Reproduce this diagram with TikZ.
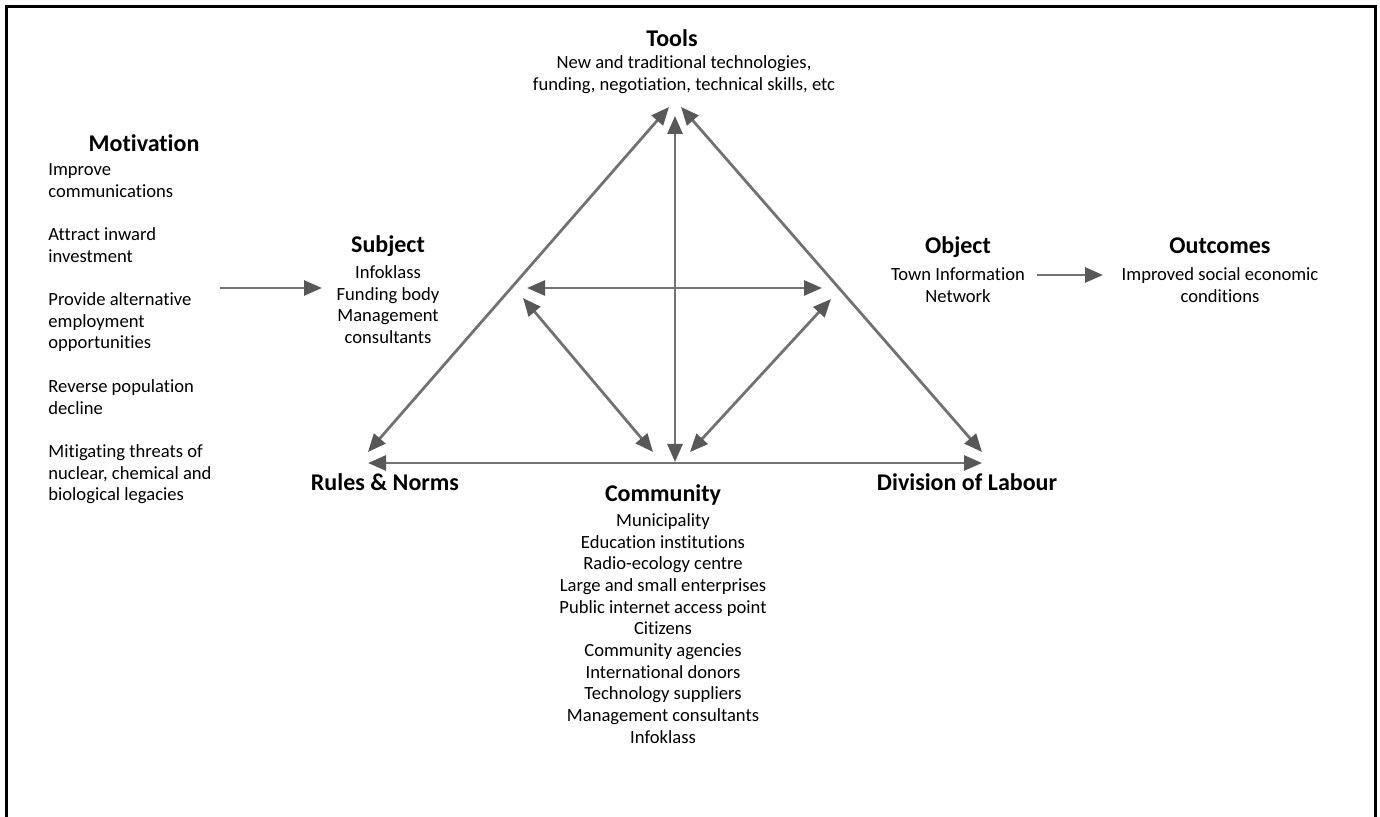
\documentclass[tikz,border=0pt]{standalone}
\usepackage{fontspec}
\setmainfont[Ligatures={NoCommon,NoRequired,NoContextual}]{Carlito}
\usetikzlibrary{arrows.meta}
\definecolor{lnc}{HTML}{727272}
\definecolor{hdc}{HTML}{585858}
\newcommand\bodyf{\fontsize{9.3}{10.85}\selectfont}
\newcommand\headf{\fontsize{12}{14}\selectfont\bfseries}
\tikzset{
  tip/.tip={Triangle[length=9pt,width=7.5pt,fill=hdc,color=hdc]},
  conn/.style={draw=lnc, line width=1.4pt, -tip},
  bconn/.style={draw=lnc, line width=1.4pt, tip-tip},
  head/.style={inner sep=0pt, anchor=base, font=\headf},
  body/.style={inner sep=0pt, anchor=north, align=center, font=\bodyf},
  lbody/.style={inner sep=0pt, anchor=north west, align=left, font=\bodyf},
}
\begin{document}
\begin{tikzpicture}[x=0.5pt,y=-0.5pt]
\useasboundingbox (0,0) rectangle (1380,817);
\fill[white] (0,0) rectangle (1380,817);
% frame
\draw[line width=1.5pt] (6.5,830) -- (6.5,6.5) -- (1375.5,6.5) -- (1375.5,830);

% text blocks
\node[head] (toolsH) at (672,47) {Tools};
\node[body] (toolsB) at (684,52.8) {\strut New and traditional technologies,\\ funding, negotiation, technical skills, etc};

\node[head] (motH) at (144,152) {Motivation};
\node[lbody] (motB) at (48,159.8) {\strut Improve\\ communications\\[10.85pt] Attract inward\\ investment\\[10.85pt] Provide alternative\\ employment\\ opportunities\\[10.85pt] Reverse population\\ decline\\[10.85pt] Mitigating threats of\\ nuclear, chemical and\\ biological legacies};

\node[head] (subjH) at (388,253) {Subject};
\node[body] (subjB) at (388,262.8) {\strut Infoklass\\ Funding body\\ Management\\ consultants};

\node[head] (objH) at (958,254) {Object};
\node[body] (objB) at (958,264.8) {\strut Town Information\\ Network};

\node[head] (outH) at (1220,254) {Outcomes};
\node[body] (outB) at (1220,264.8) {\strut Improved social economic\\ conditions};

\node[head] (rulesH) at (385,490) {Rules \& Norms};
\node[head] (divH) at (967,491) {Division of Labour};

\node[head] (comH) at (663,502) {Community};
\node[body] (comB) at (663,510.8) {\strut Municipality\\ Education institutions\\ Radio-ecology centre\\ Large and small enterprises\\ Public internet access point\\ Citizens\\ Community agencies\\ International donors\\ Technology suppliers\\ Management consultants\\ Infoklass};

% connector end points
\coordinate (T1) at (669,107);
\coordinate (T2) at (681,107);
\coordinate (T3) at (675,116);
\coordinate (R1) at (368,452);
\coordinate (R2) at (368,463);
\coordinate (D1) at (982,452);
\coordinate (D2) at (982,463);
\coordinate (C) at (675,462);
\coordinate (ML) at (527,288);
\coordinate (MR) at (822,288);
\coordinate (IL1) at (523,298);
\coordinate (IL2) at (653,452);
\coordinate (IR1) at (831,299);
\coordinate (IR2) at (690,452);
\coordinate (M1) at (220,288);
\coordinate (M2) at (322,288);
\coordinate (O1) at (1037,275);
\coordinate (O2) at (1103,275);

% connectors
\draw[bconn] (R2) -- (D2);
\draw[bconn] (T1) -- (R1);
\draw[bconn] (T2) -- (D1);
\draw[bconn] (T3) -- (C);
\draw[bconn] (ML) -- (MR);
\draw[bconn] (IL1) -- (IL2);
\draw[bconn] (IR1) -- (IR2);
\draw[conn] (M1) -- (M2);
\draw[conn] (O1) -- (O2);
\end{tikzpicture}
\end{document}
